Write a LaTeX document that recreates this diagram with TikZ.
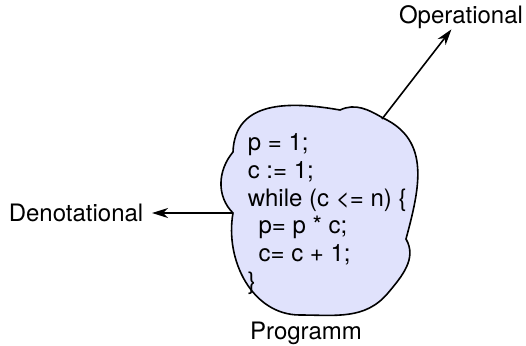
\documentclass[tikz,border=0pt]{standalone}
\usepackage{fontspec}
\setmainfont{TeX Gyre Heros}
\usepackage{tikz}
\usetikzlibrary{arrows.meta}
\definecolor{cloudfill}{RGB}{224,226,252}

\begin{document}
\begin{tikzpicture}[x=0.5pt, y=0.5pt, line width=0.8pt,
		lbl/.style={inner sep=2pt, font=\fontsize{12pt}{13.9pt}\selectfont},
		tip/.style={-{Stealth[length=8pt, width=5pt, inset=2.5pt]}}]
				\useasboundingbox (0,0) rectangle (526,-345);
				% the cloud
				\draw[fill=cloudfill] (233,-152) to[out=88, in=170, looseness=1.15] (340,-110)
					to[out=25, in=150] (383,-118)
					to[out=-25, in=75, looseness=1.1] (406,-239)
					to[out=-60, in=50] (388,-293)
					to[out=-130, in=0] (300,-315)
					to[out=180, in=-100] (233,-213)
					to[out=135, in=-130] (233,-152) -- cycle;
				\coordinate (cne) at (382,-119);
				\coordinate (cw) at (232,-213);
				\node[lbl, align=left, anchor=west] (code) at (243,-214) {%
					p = 1;\\
					c := 1;\\
					while (c <= n) \{\\
					\hspace*{0.45em}p= p * c;\\
					\hspace*{0.45em}c= c + 1;\\
					\}};
				\node[lbl] (prog) at (306,-333) {Programm};
				\node[lbl, inner sep=0pt] (oper) at (461,-17) {Operational};
				\node[lbl] (deno) at (76,-213) {Denotational};
				\draw[tip] (cne) -- (oper);
				\draw[tip, shorten >=2pt] (cw) -- (deno.east);
			\end{tikzpicture}
\end{document}
